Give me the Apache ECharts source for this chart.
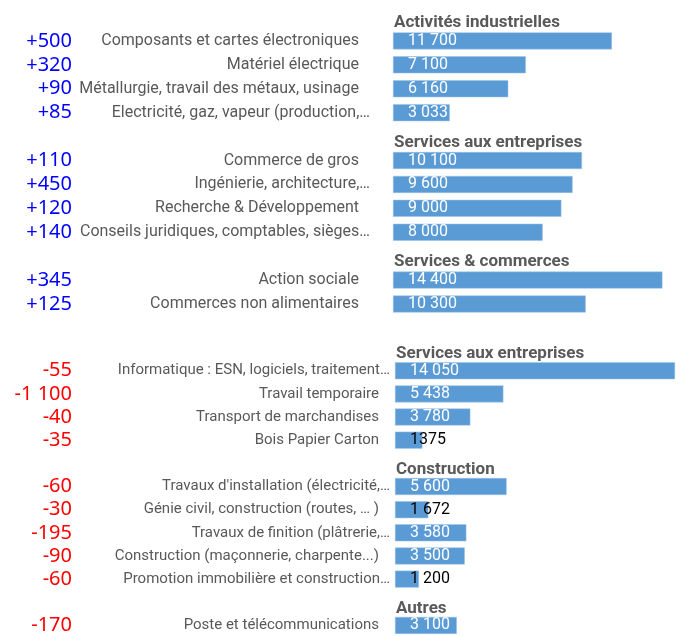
<!DOCTYPE html>
<html>
<head>
<meta charset="utf-8">
<script src="https://cdn.jsdelivr.net/npm/echarts@6/dist/echarts.min.js"></script>
<style>
  html, body { margin: 0; padding: 0; background: #fff; }
  #chart { width: 684px; height: 637px; }
</style>
</head>
<body>
<div id="chart"></div>
<script>
// Secteurs en hausse (bloc du haut)
const topHeaders = ["Activités industrielles", "", "", "", "", "Services aux entreprises", "", "", "", "", "Services & commerces", "", ""];
const topNames = ["", "Composants et cartes électroniques", "Matériel électrique", "Métallurgie, travail des métaux, usinage", "Electricité, gaz, vapeur (production,…",
  "", "Commerce de gros", "Ingénierie, architecture,…", "Recherche & Développement", "Conseils juridiques, comptables, sièges…",
  "", "Action sociale", "Commerces non alimentaires"];
const topValues = [null, 11700, 7100, 6160, 3033, null, 10100, 9600, 9000, 8000, null, 14400, 10300];
const topLabels = ["", "11 700", "7 100", "6 160", "3 033", "", "10 100", "9 600", "9 000", "8 000", "", "14 400", "10 300"];
const topDeltas = ["", "+500", "+320", "+90", "+85", "", "+110", "+450", "+120", "+140", "", "+345", "+125"];

// Secteurs en baisse (bloc du bas)
const bottomHeaders = ["Services aux entreprises", "", "", "", "", "Construction", "", "", "", "", "", "Autres", ""];
const bottomNames = ["", "Informatique : ESN, logiciels, traitement…", "Travail temporaire", "Transport de marchandises", "Bois Papier Carton",
  "", "Travaux d'installation (électricité,…", "Génie civil, construction (routes, … )", "Travaux de finition (plâtrerie,…", "Construction (maçonnerie, charpente...)", "Promotion immobilière et construction…",
  "", "Poste et télécommunications"];
const bottomValues = [null, 14050, 5438, 3780, 1375, null, 5600, 1672, 3580, 3500, 1200, null, 3100];
const bottomLabels = ["", "14 050", "5 438", "3 780", "1375", "", "5 600", "1 672", "3 580", "3 500", "1 200", "", "3 100"];
const bottomDeltas = ["", "-55", "-1 100", "-40", "-35", "", "-60", "-30", "-195", "-90", "-60", "", "-170"];

const BAR = "#5b9bd5";
const GREY = "#595959";

let myChart = echarts.init(document.getElementById("chart"));

function nameAxis(g, names, margin, size) {
  return {
    type: "category", gridIndex: g, inverse: true, data: names,
    axisLine: { show: false }, axisTick: { show: false },
    axisLabel: {
      interval: 0, margin: margin, fontFamily: "Roboto", fontSize: size, color: GREY,
      // les libellés complets ont un petit retrait à droite
      formatter: v => v.endsWith("…") ? v : "{p|" + v + "}",
      rich: { p: { fontFamily: "Roboto", fontSize: size, color: GREY, padding: [0, 11, 0, 0] } }
    }
  };
}

function deltaAxis(g, deltas, offset) {
  return {
    type: "category", gridIndex: g, inverse: true, data: deltas, position: "left", offset: offset,
    axisLine: { show: false }, axisTick: { show: false },
    axisLabel: {
      interval: 0, margin: 8, fontFamily: "Noto Sans", fontSize: 20,
      color: v => v.startsWith("-") ? "#ff0000" : "#0000ff"
    }
  };
}

function barSeries(g, values, labels) {
  return {
    type: "bar", xAxisIndex: g, yAxisIndex: g * 2, barWidth: 17, barGap: "-100%",
    itemStyle: { color: BAR, borderColor: "#9dc3e6", borderWidth: 0.5 },
    data: values.map((v, i) => v === null ? "-" : {
      value: v,
      label: { formatter: labels[i], color: v < 2000 ? "#000" : "#fff" }
    }),
    label: { show: true, position: "insideLeft", distance: 15, fontFamily: "Roboto", fontSize: 16 }
  };
}

function headerSeries(g, headers) {
  return {
    type: "bar", xAxisIndex: g, yAxisIndex: g * 2, barWidth: 17, barGap: "-100%",
    itemStyle: { color: "transparent" },
    data: headers.map(h => h ? { value: 0, label: { formatter: h } } : "-"),
    label: {
      show: true, position: "right", distance: 1, offset: [0, 6],
      fontFamily: "Roboto", fontSize: 17, fontWeight: "bold", color: GREY
    }
  };
}

let option = {
  animation: false,
  grid: [
    { left: 393, right: 1, top: 5, height: 311, containLabel: false },
    { left: 395, right: 0, top: 336, height: 306, containLabel: false }
  ],
  xAxis: [
    { gridIndex: 0, type: "value", min: 0, max: 15500, show: false },
    { gridIndex: 1, type: "value", min: 0, max: 14500, show: false }
  ],
  yAxis: [
    nameAxis(0, topNames, 23, 16),
    deltaAxis(0, topDeltas, 313),
    nameAxis(1, bottomNames, 5, 15),
    deltaAxis(1, bottomDeltas, 315)
  ],
  series: [
    barSeries(0, topValues, topLabels),
    headerSeries(0, topHeaders),
    barSeries(1, bottomValues, bottomLabels),
    headerSeries(1, bottomHeaders)
  ]
};

myChart.setOption(option);
</script>
</body>
</html>
